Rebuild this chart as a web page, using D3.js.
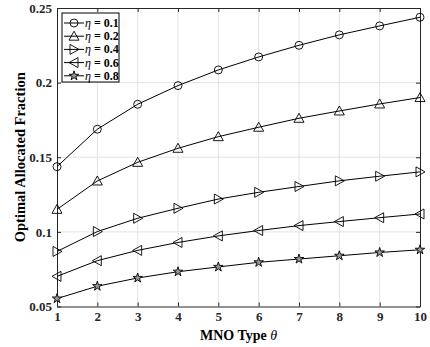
<!DOCTYPE html>
<html>
<head>
<meta charset="utf-8">
<script src="https://cdn.jsdelivr.net/npm/d3@7"></script>
<style>
  body { margin: 0; background: #fff; }
  text { font-family: "Liberation Serif", "Times New Roman", serif; }
</style>
</head>
<body>
<svg id="chart" width="430" height="347"></svg>
<script>
var mnoTypes = [1, 2, 3, 4, 5, 6, 7, 8, 9, 10];
var etaLabels = ["0.1", "0.2", "0.4", "0.6", "0.8"];
var markerTypes = ["circle", "triUp", "triRight", "triLeft", "star"];

var eta01 = [0.1437, 0.1688, 0.1855, 0.1980, 0.2085, 0.2172, 0.2250, 0.2320, 0.2380, 0.2438];
var eta02 = [0.1151, 0.1341, 0.1466, 0.1560, 0.1638, 0.1701, 0.1761, 0.1810, 0.1857, 0.1900];
var eta04 = [0.0869, 0.1002, 0.1091, 0.1158, 0.1220, 0.1265, 0.1304, 0.1342, 0.1373, 0.1402];
var eta06 = [0.0702, 0.0807, 0.0876, 0.0929, 0.0973, 0.1009, 0.1042, 0.1069, 0.1095, 0.1120];
var eta08 = [0.0553, 0.0636, 0.0691, 0.0733, 0.0765, 0.0796, 0.0818, 0.0840, 0.0862, 0.0880];

var yTicks = [0.05, 0.1, 0.15, 0.2, 0.25];

var allSeries = [eta01, eta02, eta04, eta06, eta08];

var margin = { top: 8, right: 10, bottom: 40, left: 57 };
var width = 430, height = 347;

var svg = d3.select("#chart");

var x = d3.scaleLinear().domain([1, 10]).range([margin.left, width - margin.right]);
var y = d3.scaleLinear().domain([0.05, 0.25]).range([height - margin.bottom - 0.5, margin.top]);

// grid
svg.append("g")
    .selectAll("line.vg")
    .data(mnoTypes.slice(1, -1))
    .enter().append("line")
    .attr("x1", d => x(d)).attr("x2", d => x(d))
    .attr("y1", y(0.25)).attr("y2", y(0.05))
    .attr("stroke", "#e3e3e3").attr("stroke-width", 1);
svg.append("g")
    .selectAll("line.hg")
    .data(yTicks.slice(1, -1))
    .enter().append("line")
    .attr("y1", d => y(d)).attr("y2", d => y(d))
    .attr("x1", x(1)).attr("x2", x(10))
    .attr("stroke", "#e3e3e3").attr("stroke-width", 1);

// axes with inward ticks (box style)
var fmtY = d => d3.format("")(+d.toFixed(2));
var axB = svg.append("g").attr("transform", "translate(0," + y(0.05) + ")")
    .call(d3.axisBottom(x).tickValues(mnoTypes).tickSizeInner(-4).tickSizeOuter(0).tickPadding(5));
var axT = svg.append("g").attr("transform", "translate(0," + y(0.25) + ")")
    .call(d3.axisTop(x).tickValues(mnoTypes).tickSizeInner(-4).tickSizeOuter(0).tickFormat(""));
var axL = svg.append("g").attr("transform", "translate(" + x(1) + ",0)")
    .call(d3.axisLeft(y).tickValues(yTicks).tickSizeInner(-4).tickSizeOuter(0).tickPadding(5).tickFormat(fmtY));
var axR = svg.append("g").attr("transform", "translate(" + x(10) + ",0)")
    .call(d3.axisRight(y).tickValues(yTicks).tickSizeInner(-4).tickSizeOuter(0).tickFormat(""));

[axB, axT, axL, axR].forEach(function (g) {
    g.select(".domain").attr("stroke", "#262626");
    g.selectAll(".tick line").attr("stroke", "#262626");
    g.selectAll("text")
        .attr("font-family", "'Liberation Serif', serif")
        .attr("font-size", 13)
        .attr("font-weight", "bold")
        .attr("fill", "#262626");
});

// marker shapes
function markerPath(type) {
    if (type === "circle") return d3.symbol().type(d3.symbolCircle).size(50)();
    if (type === "star") return d3.symbol().type(d3.symbolStar).size(28)();
    var s = 5;
    if (type === "triUp") return "M0," + (-s) + "L" + s + "," + (s * 0.8) + "L" + (-s) + "," + (s * 0.8) + "Z";
    if (type === "triRight") return "M" + s + ",0L" + (-s * 0.8) + "," + (-s) + "L" + (-s * 0.8) + "," + s + "Z";
    if (type === "triLeft") return "M" + (-s) + ",0L" + (s * 0.8) + "," + (-s) + "L" + (s * 0.8) + "," + s + "Z";
}

var line = d3.line().x((d, i) => x(mnoTypes[i])).y(d => y(d));

allSeries.forEach(function (vals, k) {
    var g = svg.append("g");
    g.append("path")
        .attr("d", line(vals))
        .attr("fill", "none")
        .attr("stroke", "#000")
        .attr("stroke-width", 1);
    g.selectAll("path.mk")
        .data(vals)
        .enter().append("path")
        .attr("class", "mk")
        .attr("transform", (d, i) => "translate(" + x(mnoTypes[i]) + "," + y(d) + ")")
        .attr("d", markerPath(markerTypes[k]))
        .attr("fill", markerTypes[k] === "star" ? "#999" : "none")
        .attr("stroke", "#000")
        .attr("stroke-width", 0.9);
});

// legend
var lg = svg.append("g").attr("transform", "translate(62,13)");
lg.append("rect")
    .attr("width", 57).attr("height", 69)
    .attr("fill", "#fff").attr("stroke", "#000").attr("stroke-width", 1);
etaLabels.forEach(function (lab, k) {
    var cy = 10 + k * 13.2;
    lg.append("line").attr("x1", 2).attr("x2", 22).attr("y1", cy).attr("y2", cy)
        .attr("stroke", "#000").attr("stroke-width", 1);
    lg.append("path").attr("transform", "translate(12," + cy + ")")
        .attr("d", markerPath(markerTypes[k]))
        .attr("fill", markerTypes[k] === "star" ? "#999" : "none")
        .attr("stroke", "#000").attr("stroke-width", 0.9);
    var t = lg.append("text").attr("x", 23).attr("y", cy + 4)
        .attr("font-size", 12).attr("fill", "#000");
    t.append("tspan").attr("font-style", "italic").text("\u03b7");
    t.append("tspan").attr("font-weight", "bold").text(" = " + lab);
});

// axis titles
var xt = svg.append("text")
    .attr("x", (x(1) + x(10)) / 2).attr("y", 340)
    .attr("text-anchor", "middle")
    .attr("font-size", 14).attr("font-weight", "bold").attr("fill", "#000");
xt.append("tspan").text("MNO Type ");
xt.append("tspan").attr("font-style", "italic").attr("font-weight", "normal").text("\u03b8");

svg.append("text")
    .attr("transform", "translate(25," + (y(0.15)) + ") rotate(-90)")
    .attr("text-anchor", "middle")
    .attr("font-size", 14.5).attr("font-weight", "bold").attr("fill", "#000")
    .text("Optimal Allocated Fraction");
</script>
</body>
</html>
